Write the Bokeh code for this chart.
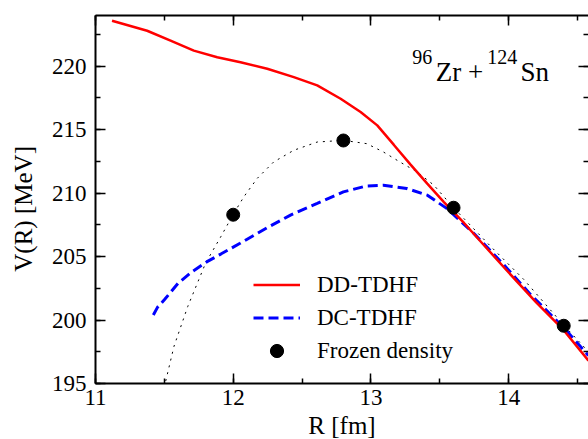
from bokeh.plotting import figure
from bokeh.models import (LinearAxis, SingleIntervalTicker, Range1d, Legend,
                          LegendItem, Label, CustomJSTickFormatter)
from bokeh.embed import file_html
from bokeh.resources import INLINE

# ---- data ----
R_dd = [11.12, 11.375, 11.545, 11.714, 11.884, 12.053, 12.247, 12.44, 12.61,
        12.78, 12.925, 13.046, 13.167, 13.288, 13.409, 13.53, 13.676, 13.80,
        14.00, 14.20, 14.40, 14.58]
V_dd = [223.59, 222.8, 222.02, 221.23, 220.71, 220.32, 219.8, 219.14, 218.49,
        217.44, 216.39, 215.34, 213.8, 212.25, 210.75, 209.3, 207.65, 206.15,
        203.75, 201.4, 199.2, 196.8]

R_dc = [11.42, 11.45, 11.50, 11.60, 11.70, 11.81, 11.91, 12.05, 12.25, 12.416,
        12.61, 12.80, 12.97, 13.09, 13.26, 13.41, 13.55, 13.75, 13.97, 14.16,
        14.40, 14.58]
V_dc = [200.4, 201.0, 201.6, 202.9, 203.8, 204.6, 205.2, 206.05, 207.3, 208.27,
        209.19, 210.1, 210.57, 210.63, 210.37, 209.84, 208.8, 206.8, 204.3, 202.0,
        199.4, 197.2]

R_fit = [11.51, 11.57, 11.67, 11.80, 11.91, 12.004, 12.077, 12.174, 12.294,
         12.44, 12.61, 12.80, 12.97, 13.09, 13.21, 13.336, 13.457, 13.60, 13.87,
         14.11, 14.40, 14.58]
V_fit = [195.2, 197.93, 201.07, 204.5, 206.57, 208.4, 209.71, 211.16, 212.46,
         213.38, 214.03, 214.16, 213.9, 213.25, 212.46, 211.67, 210.63, 208.85,
         205.8, 203.2, 199.6, 197.5]

R_frozen = [12.0, 12.8, 13.6, 14.4]
V_frozen = [208.3, 214.15, 208.85, 199.55]

X_MIN, X_MAX = 11.0, 14.58
Y_MIN, Y_MAX = 195.0, 224.0

FONT = "Liberation Serif"

p = figure(frame_width=493, frame_height=368,
           x_range=Range1d(X_MIN, X_MAX), y_range=Range1d(Y_MIN, Y_MAX),
           output_backend="svg", toolbar_location=None,
           min_border_left=95, min_border_right=0, min_border_top=15,
           min_border_bottom=56,
           x_axis_label="R [fm]", y_axis_label="V(R) [MeV]\u00a0\u00a0\u00a0")
p.outline_line_color = None
p.xgrid.visible = False
p.ygrid.visible = False
p.background_fill_color = "white"
p.border_fill_color = "white"

p.xaxis.ticker = SingleIntervalTicker(interval=1, num_minor_ticks=2)
p.yaxis.ticker = SingleIntervalTicker(interval=5, num_minor_ticks=2)


def style_axis(ax, labels=True):
    ax.axis_line_width = 2
    ax.axis_line_color = "black"
    ax.major_tick_in = 10
    ax.major_tick_out = 0
    ax.minor_tick_in = 5
    ax.minor_tick_out = 0
    ax.major_tick_line_width = 1.5
    ax.minor_tick_line_width = 1.5
    ax.major_tick_line_color = "black"
    ax.minor_tick_line_color = "black"
    if labels:
        ax.major_label_text_font = FONT
        ax.major_label_text_font_size = "23px"
        ax.major_label_text_color = "black"
        ax.axis_label_text_font = FONT
        ax.axis_label_text_font_size = "25px"
        ax.axis_label_text_font_style = "normal"
        ax.axis_label_text_color = "black"
    else:
        ax.formatter = CustomJSTickFormatter(code="return ''")
        ax.major_label_standoff = 0


style_axis(p.xaxis[0])
style_axis(p.yaxis[0])
p.xaxis[0].major_label_standoff = 6
p.xaxis[0].axis_label_standoff = 4
p.yaxis[0].major_label_standoff = 9
p.yaxis[0].axis_label_standoff = 12

top = LinearAxis(ticker=SingleIntervalTicker(interval=1, num_minor_ticks=2))
style_axis(top, labels=False)
p.add_layout(top, "above")
right = LinearAxis(ticker=SingleIntervalTicker(interval=5, num_minor_ticks=2))
style_axis(right, labels=False)
right.axis_line_color = None
p.add_layout(right, "right")

fit = p.line(R_fit, V_fit, line_color="black", line_width=1, line_dash="2 5")
dc = p.line(R_dc, V_dc, line_color="#0000ff", line_width=3, line_dash="10 5")
dd = p.line(R_dd, V_dd, line_color="#ff0000", line_width=2.5)
fr = p.scatter(R_frozen, V_frozen, size=13, color="black")

legend = Legend(items=[LegendItem(label="DD-TDHF", renderers=[dd]),
                       LegendItem(label="DC-TDHF", renderers=[dc]),
                       LegendItem(label="Frozen density", renderers=[fr])],
                location=(158, 16))
legend.glyph_width = 47
legend.glyph_height = 33
legend.label_height = 33
legend.spacing = 0
legend.padding = 0
legend.margin = 0
legend.label_standoff = 17
legend.border_line_color = None
legend.background_fill_alpha = 0
legend.label_text_font = FONT
legend.label_text_font_size = "23px"
legend.label_text_color = "black"
p.add_layout(legend)

# system label: 96Zr + 124Sn
for txt, x, y, size in [("96", 13.30, 220.71, "20px"),
                        ("Zr +", 13.47, 219.53, "27px"),
                        ("124", 13.845, 220.71, "20px"),
                        ("Sn", 14.086, 219.53, "27px")]:
    p.add_layout(Label(x=x, y=y, text=txt, text_font=FONT, text_font_size=size,
                       text_baseline="alphabetic", text_color="black"))

open("out.html", "w").write(file_html(p, INLINE))
